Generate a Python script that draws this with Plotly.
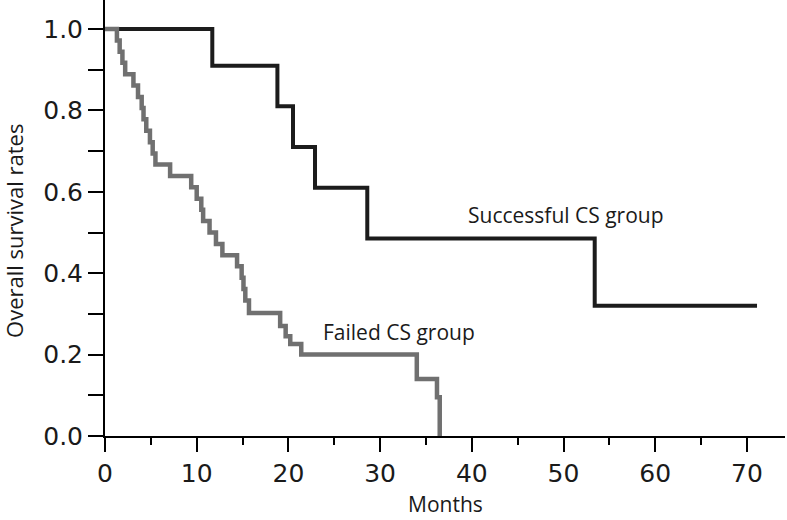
import plotly.graph_objects as go

# Successful CS group (Kaplan-Meier steps)
success_months = [0, 11.7, 18.8, 20.5, 22.9, 28.6, 53.4, 71.1]
success_surv = [1.0, 0.91, 0.81, 0.71, 0.61, 0.485, 0.32, 0.32]

# Failed CS group (Kaplan-Meier steps)
failed_months = [0, 1.3, 1.6, 1.9, 2.2, 3.1, 3.6, 4.0, 4.2, 4.5, 4.9, 5.2, 5.5,
                 7.1, 9.4, 10.0, 10.5, 10.7, 11.4, 12.1, 12.8, 14.4, 14.9, 15.1,
                 15.3, 15.7, 19.1, 19.7, 20.2, 21.4, 34.0, 36.2, 36.5]
failed_surv = [1.0, 0.972, 0.944, 0.917, 0.889, 0.861, 0.833, 0.806, 0.778, 0.75,
               0.722, 0.694, 0.667, 0.639, 0.611, 0.583, 0.556, 0.528, 0.5, 0.472,
               0.444, 0.417, 0.389, 0.361, 0.333, 0.302, 0.27, 0.245, 0.226, 0.2,
               0.14, 0.095, 0.0]

x_ticks = [0, 10, 20, 30, 40, 50, 60, 70]
y_ticks = [0.0, 0.2, 0.4, 0.6, 0.8, 1.0]

TEXT = "#1a1a1a"
fig = go.Figure()
fig.add_trace(go.Scatter(x=success_months, y=success_surv, mode="lines",
                         line=dict(shape="hv", color="#1c1c1c", width=4),
                         showlegend=False, hoverinfo="skip"))
fig.add_trace(go.Scatter(x=failed_months, y=failed_surv, mode="lines",
                         line=dict(shape="hv", color="#707070", width=4.5),
                         showlegend=False, hoverinfo="skip"))

fig.add_annotation(x=39.4, y=0.543, text="Successful CS group", showarrow=False,
                   xanchor="left", yanchor="middle",
                   font=dict(family="Open Sans", size=21, color=TEXT))
fig.add_annotation(x=23.6, y=0.255, text="Failed CS group", showarrow=False,
                   xanchor="left", yanchor="middle",
                   font=dict(family="Open Sans", size=21, color=TEXT))
# axis titles
fig.add_annotation(xref="paper", yref="paper", x=0.5, y=-0.157, text="Months",
                   showarrow=False, xanchor="center", yanchor="middle",
                   font=dict(family="Open Sans", size=21, color=TEXT))
fig.add_annotation(xref="paper", yref="paper", x=-0.134, y=0.47,
                   text="Overall survival rates", textangle=-90,
                   showarrow=False, xanchor="center", yanchor="middle",
                   font=dict(family="Open Sans", size=22, color=TEXT))

fig.update_layout(
    width=787, height=520,
    margin=dict(l=105, r=2, t=0, b=84),
    paper_bgcolor="white", plot_bgcolor="white",
    xaxis=dict(
        range=[0, 74.15], tickvals=x_ticks, ticktext=[str(v) for v in x_ticks],
        showgrid=False, zeroline=False, automargin=False,
        showline=True, linecolor="black", linewidth=2,
        ticks="outside", ticklen=14, tickwidth=2, tickcolor="black",
        minor=dict(dtick=5, tick0=0, ticks="outside", ticklen=7, tickwidth=2, tickcolor="black"),
        tickfont=dict(family="DejaVu Sans", size=25, color=TEXT),
    ),
    yaxis=dict(
        range=[0, 1.0713], tickvals=y_ticks, ticktext=[f"{v:.1f}" for v in y_ticks],
        showgrid=False, zeroline=False, automargin=False,
        showline=True, linecolor="black", linewidth=2,
        ticks="outside", ticklen=15, tickwidth=2, tickcolor="black",
        minor=dict(dtick=0.1, tick0=0, ticks="outside", ticklen=15, tickwidth=2, tickcolor="black"),
        tickfont=dict(family="DejaVu Sans", size=25, color=TEXT),
    ),
)

fig.write_html("out.html", config={"displayModeBar": False},
               post_script="document.body.style.margin='0';document.body.style.overflow='hidden';")
